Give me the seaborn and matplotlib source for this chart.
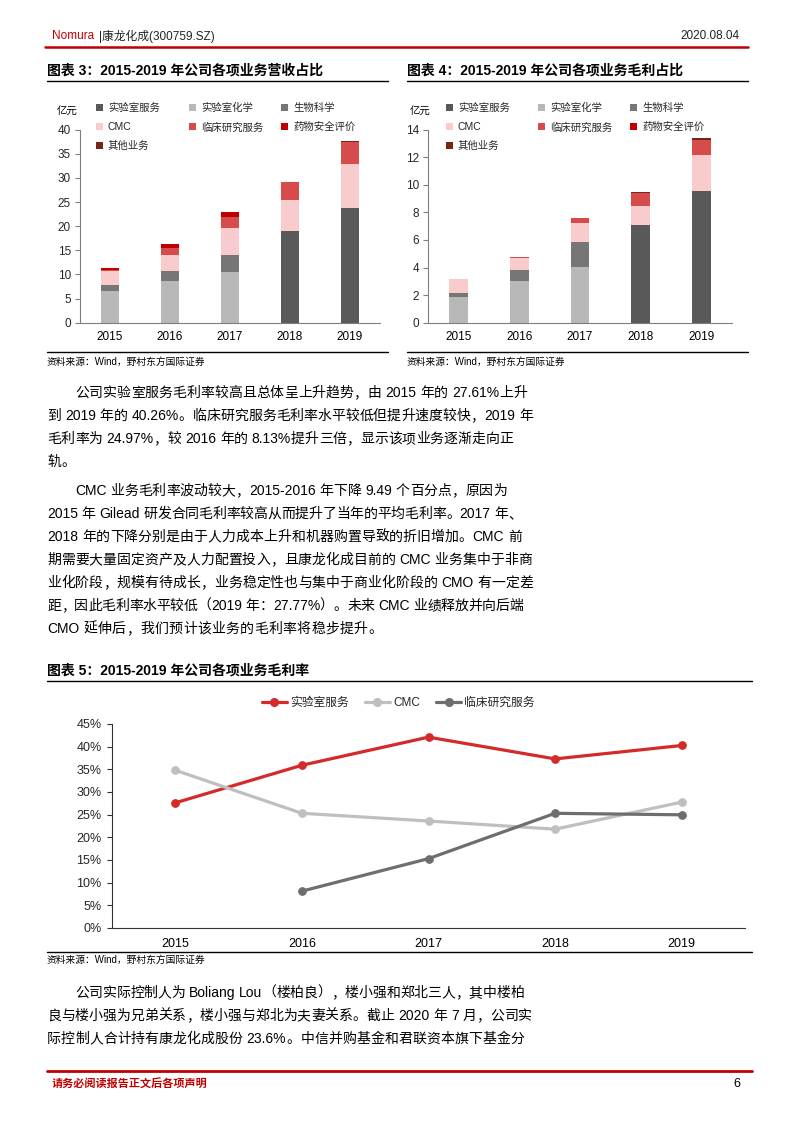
import numpy as np
import pandas as pd
import matplotlib
matplotlib.use("Agg")
import matplotlib.pyplot as plt
from matplotlib.lines import Line2D
from matplotlib.patches import Patch
import seaborn as sns

# ---------------- data ----------------
years = ["2015", "2016", "2017", "2018", "2019"]
series_names = ["实验室服务", "实验室化学", "生物科学", "CMC", "临床研究服务", "药物安全评价", "其他业务"]
series_colors = ["#595959", "#b8b8b8", "#767676", "#f8cccc", "#d64c4c", "#c00000", "#7a2418"]

# revenue (亿元)
rev_lab_service = [0, 0, 0, 19.0, 23.8]
rev_lab_chem = [6.56, 8.70, 10.57, 0, 0]
rev_bio = [1.25, 2.00, 3.38, 0, 0]
rev_cmc = [2.90, 3.31, 5.75, 6.50, 9.10]
rev_clinical = [0.15, 1.51, 2.20, 3.57, 4.60]
rev_safety = [0.40, 0.83, 1.00, 0, 0]
rev_other = [0.0, 0.05, 0.10, 0.08, 0.20]

# gross profit (亿元)
gp_lab_service = [0, 0, 0, 7.06, 9.57]
gp_lab_chem = [1.84, 3.00, 4.04, 0, 0]
gp_bio = [0.34, 0.82, 1.81, 0, 0]
gp_cmc = [1.00, 0.87, 1.35, 1.40, 2.57]
gp_clinical = [-0.04, 0.10, 0.39, 0.97, 1.08]
gp_safety = [0.0, -0.01, -0.05, 0, 0]
gp_other = [0.0, 0.0, 0.04, 0.07, 0.15]

# gross margin (%)
gm_lab_service = [27.61, 35.9, 42.1, 37.3, 40.26]
gm_cmc = [34.8, 25.3, 23.6, 21.8, 27.77]
gm_clinical = [np.nan, 8.13, 15.3, 25.3, 24.97]
line_names = ["实验室服务", "CMC", "临床研究服务"]
line_colors = ["#d42a2a", "#bfbfbf", "#6e6e6e"]

rev_ticks = [0, 5, 10, 15, 20, 25, 30, 35, 40]
gp_ticks = [0, 2, 4, 6, 8, 10, 12, 14]
gm_ticks = [0, 5, 10, 15, 20, 25, 30, 35, 40, 45]

# ---------------- style ----------------
sns.set_theme(style="white")
FAM = ["Liberation Sans", "Noto Sans CJK SC"]
plt.rcParams["font.family"] = FAM
plt.rcParams["axes.unicode_minus"] = False

W, H = 793, 1122
fig = plt.figure(figsize=(W / 100, H / 100), dpi=100)
fig.patch.set_facecolor("white")
renderer = fig.canvas.get_renderer()


def fy(y):
    return 1 - y / H


def txt(x, y, s, size=10, color="black", ha="left", va="center", weight="normal", **kw):
    return fig.text(x / W, fy(y), s, fontsize=size, color=color, ha=ha, va=va,
                    fontweight=weight, family=FAM, **kw)


def hline(x1, x2, y, color="black", lw=1.0):
    fig.add_artist(Line2D([x1 / W, x2 / W], [fy(y), fy(y)], transform=fig.transFigure,
                          color=color, lw=lw))


def axes_px(l, t, r, b):
    return fig.add_axes([l / W, 1 - b / H, (r - l) / W, (b - t) / H])


def tokenize(s):
    toks = []  # (text, space_before)
    cur = ""
    space = False
    for ch in s:
        if ch == " ":
            if cur:
                toks.append((cur, space))
                cur = ""
            space = True
        elif ord(ch) < 128:
            cur += ch
        else:
            if cur:
                toks.append((cur, space))
                cur = ""
                space = False
            toks.append((ch, space))
            space = False
    if cur:
        toks.append((cur, space))
    return toks


def body_line(x0, x1, y, s, size=10.0):
    toks = tokenize(s)
    arts = []
    widths = []
    for t, _ in toks:
        a = txt(x0, y, t, size=size)
        widths.append(a.get_window_extent(renderer=renderer).width)
        arts.append(a)
    sp = 0.28 * size * 100 / 72
    natural = sum(widths) + sum(sp for _, b in toks if b)
    gaps = len(toks) - 1
    if x1 is None or gaps <= 0:
        extra = 0.35
    else:
        extra = (x1 - x0 - natural) / gaps
    x = x0
    for i, (a, (t, b)) in enumerate(zip(arts, toks)):
        if i > 0:
            x += extra + (sp if b else 0)
        a.set_x(x / W)
        x += widths[i]


# ---------------- header ----------------
txt(52, 36, "Nomura", size=8.5, color="#c00000")
txt(99, 36, "|康龙化成(300759.SZ)", size=8.5, color="#222222")
txt(740, 36, "2020.08.04", size=8.5, color="#222222", ha="right")
hline(45, 748, 47, color="#c00000", lw=1.8)


# ---------------- stacked bar charts ----------------
def stacked(ax, data, ticks):
    vals = np.array(data, dtype=float)  # (n_series, n_years)
    pos = np.clip(vals, 0, None)
    neg = np.clip(vals, None, 0)
    pos_cum = np.cumsum(pos, axis=0)
    neg_cum = np.cumsum(neg, axis=0)
    n = len(series_names)
    for i in range(n - 1, -1, -1):
        d = pd.DataFrame({"year": years, "v": pos_cum[i]})
        sns.barplot(data=d, x="year", y="v", order=years, color=series_colors[i],
                    width=0.31, saturation=1, errorbar=None, ax=ax, linewidth=0)
    for i in range(n - 1, -1, -1):
        if np.any(neg[i] < 0):
            d = pd.DataFrame({"year": years, "v": neg_cum[i]})
            sns.barplot(data=d, x="year", y="v", order=years, color=series_colors[i],
                        width=0.31, saturation=1, errorbar=None, ax=ax, linewidth=0)
    ax.set_xlim(-0.5, 4.5)
    ax.set_ylim(ticks[0], ticks[-1])
    ax.set_yticks(ticks)
    ax.set_yticklabels([str(t) for t in ticks])
    ax.set_xlabel("")
    ax.set_ylabel("")
    ax.set_xticks(range(5))
    ax.set_xticklabels(years)
    ax.set_xticks(np.arange(-0.5, 5, 1), minor=True)
    ax.tick_params(axis="x", which="major", length=0, labelsize=8.5, pad=6, colors="black")
    ax.tick_params(axis="x", which="minor", length=3.5, width=0.8, color="#7f7f7f", direction="out")
    ax.tick_params(axis="y", length=3.5, width=0.8, color="#7f7f7f", labelsize=8.5, pad=3,
                   direction="out", left=True)
    for s in ["top", "right"]:
        ax.spines[s].set_visible(False)
    for s in ["left", "bottom"]:
        ax.spines[s].set_color("#7f7f7f")
        ax.spines[s].set_linewidth(0.8)
    ax.set_facecolor("white")
    ax.grid(False)


def bar_legend(col_x, y):
    columns = [[0, 3, 6], [1, 4], [2, 5]]
    for cx, idxs in zip(col_x, columns):
        handles = [Patch(facecolor=series_colors[i], edgecolor="none") for i in idxs]
        labels = [series_names[i] for i in idxs]
        fig.legend(handles, labels, ncol=1, loc="upper left",
                   bbox_to_anchor=(cx / W, fy(y)), frameon=False,
                   prop={"family": FAM, "size": 7.5}, handlelength=0.7, handleheight=0.7,
                   handletextpad=0.45, labelspacing=0.85, borderpad=0, borderaxespad=0)


# chart 3
txt(47, 70, "图表 3：2015-2019 年公司各项业务营收占比", size=10, weight="bold")
hline(47, 388, 81, lw=1.0)
ax1 = axes_px(80, 129.7, 380, 322.7)
stacked(ax1, [rev_lab_service, rev_lab_chem, rev_bio, rev_cmc, rev_clinical, rev_safety, rev_other], rev_ticks)
txt(57, 112, "亿元", size=7.5)
bar_legend([96, 189, 281], 103)
hline(47, 388, 352, lw=1.0)
txt(47, 362, "资料来源：Wind，野村东方国际证券", size=7)

# chart 4
txt(407, 70, "图表 4：2015-2019 年公司各项业务毛利占比", size=10, weight="bold")
hline(407, 748, 81, lw=1.0)
ax2 = axes_px(428, 129.7, 732, 322.7)
stacked(ax2, [gp_lab_service, gp_lab_chem, gp_bio, gp_cmc, gp_clinical, gp_safety, gp_other], gp_ticks)
txt(410, 112, "亿元", size=7.5)
bar_legend([446, 538, 630], 103)
hline(407, 748, 352, lw=1.0)
txt(407, 362, "资料来源：Wind，野村东方国际证券", size=7)

# ---------------- body text ----------------
body1 = [
    (75, 527, 393, "公司实验室服务毛利率较高且总体呈上升趋势，由 2015 年的 27.61%上升"),
    (47, 533, 416, "到 2019 年的 40.26%。临床研究服务毛利率水平较低但提升速度较快，2019 年"),
    (47, 513, 439, "毛利率为 24.97%，较 2016 年的 8.13%提升三倍，显示该项业务逐渐走向正"),
    (47, None, 462, "轨。"),
    (75, 507, 491, "CMC 业务毛利率波动较大，2015-2016 年下降 9.49 个百分点，原因为"),
    (47, 522, 514, "2015 年 Gilead 研发合同毛利率较高从而提升了当年的平均毛利率。2017 年、"),
    (47, 522, 537, "2018 年的下降分别是由于人力成本上升和机器购置导致的折旧增加。CMC 前"),
    (47, 532, 560, "期需要大量固定资产及人力配置投入，且康龙化成目前的 CMC 业务集中于非商"),
    (47, 533, 583, "业化阶段，规模有待成长，业务稳定性也与集中于商业化阶段的 CMO 有一定差"),
    (47, 523, 606, "距，因此毛利率水平较低（2019 年：27.77%）。未来 CMC 业绩释放并向后端"),
    (47, None, 629, "CMO 延伸后，我们预计该业务的毛利率将稳步提升。"),
]
for x0, x1, y, s in body1:
    body_line(x0, x1, y, s)

# ---------------- line chart ----------------
txt(47, 670, "图表 5：2015-2019 年公司各项业务毛利率", size=10, weight="bold")
hline(47, 752, 681, lw=1.0)
ax3 = axes_px(112, 724, 745, 928)
xpos = np.arange(len(years))
for name, vals, col in zip(line_names, [gm_lab_service, gm_cmc, gm_clinical], line_colors):
    d = pd.DataFrame({"x": xpos, "y": vals}).dropna()
    sns.lineplot(data=d, x="x", y="y", color=col, lw=2.3, marker="o", markersize=5.5,
                 markeredgecolor=col, ax=ax3, label=name)
ax3.set_xlim(-0.5, 4.5)
ax3.set_ylim(0, 45)
ax3.set_yticks(gm_ticks)
ax3.set_yticklabels([f"{t}%" for t in gm_ticks])
ax3.set_xticks(xpos)
ax3.set_xticklabels(years)
ax3.set_xticks(np.arange(-0.5, 5, 1), minor=True)
ax3.set_xlabel("")
ax3.set_ylabel("")
ax3.tick_params(axis="x", which="major", length=0, labelsize=9, pad=7, colors="black")
ax3.tick_params(axis="x", which="minor", length=3.5, width=0.8, color="#333333", direction="out")
ax3.tick_params(axis="y", length=3.5, width=0.8, color="#333333", labelsize=9, pad=4,
                direction="out", left=True)
for s in ["top", "right"]:
    ax3.spines[s].set_visible(False)
for s in ["left", "bottom"]:
    ax3.spines[s].set_color("#333333")
    ax3.spines[s].set_linewidth(0.8)
ax3.grid(False)
ax3.legend_.remove()
lh = [Line2D([0], [0], color=c, lw=2.3, marker="o", markersize=5.5) for c in line_colors]
fig.legend(lh, line_names, ncol=3, loc="center", bbox_to_anchor=(398.5 / W, fy(703)),
           frameon=False, prop={"family": FAM, "size": 8.5}, handlelength=2.1,
           handletextpad=0.3, columnspacing=1.35, borderpad=0)
hline(47, 752, 952, lw=1.0)
txt(47, 960, "资料来源：Wind，野村东方国际证券", size=7)

# ---------------- body text 2 ----------------
body2 = [
    (75, 524, 993, "公司实际控制人为 Boliang Lou（楼柏良），楼小强和郑北三人，其中楼柏"),
    (47, 532, 1016, "良与楼小强为兄弟关系，楼小强与郑北为夫妻关系。截止 2020 年 7 月，公司实"),
    (47, 524, 1039, "际控制人合计持有康龙化成股份 23.6%。中信并购基金和君联资本旗下基金分"),
]
for x0, x1, y, s in body2:
    body_line(x0, x1, y, s)

# ---------------- footer ----------------
hline(47, 752, 1071, color="#c00000", lw=2.0)
txt(52, 1084, "请务必阅读报告正文后各项声明", size=8, color="#c00000", weight="bold")
txt(740, 1084, "6", size=9, ha="right")

fig.savefig("out.png", dpi=100, facecolor="white")
